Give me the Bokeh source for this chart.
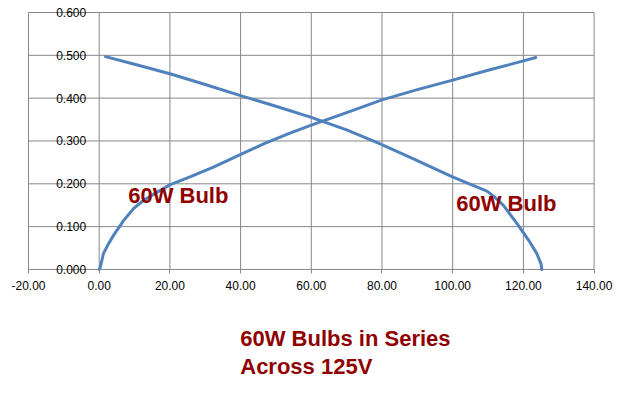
from bokeh.plotting import figure
from bokeh.models import LinearAxis, Range1d, Label, FixedTicker, CustomJSTickFormatter
from bokeh.embed import file_html
from bokeh.resources import INLINE

# Bulb A (voltage across bulb vs current)
bulb_a_v = [0, 0.3, 1.2, 2.5, 4.0, 6.9, 9.7, 12.5, 16.3, 20.1, 25.7, 32.3, 39.9, 46.5,
            53.6, 60, 70, 80, 90, 100, 110, 120, 123.5]
bulb_a_i = [0.000, 0.005, 0.037, 0.058, 0.079, 0.114, 0.142, 0.161, 0.180, 0.198, 0.216,
            0.239, 0.268, 0.293, 0.317, 0.337, 0.366, 0.396, 0.420, 0.442, 0.465, 0.487, 0.495]
# Bulb B (load line)
bulb_b_v = [1.8, 10, 20, 30, 40, 50, 60, 70, 79.5, 88.9, 99.8, 105.9, 109.7, 112, 114.4,
            118.2, 121.5, 123.8, 125.0, 125.2]
bulb_b_i = [0.497, 0.479, 0.457, 0.432, 0.406, 0.381, 0.355, 0.326, 0.293, 0.258, 0.217,
            0.196, 0.183, 0.168, 0.149, 0.107, 0.068, 0.037, 0.013, 0.000]

x_ticks = [-20, 0, 20, 40, 60, 80, 100, 120, 140]
y_ticks = [0.0, 0.1, 0.2, 0.3, 0.4, 0.5, 0.6]

curve_label = "60W Bulb"
title_lines = ["60W Bulbs in Series", "Across 125V"]

GRID = "#868686"
RED = "#900000"
BLUE = "#4F81BD"

W, H = 627, 395
# frame spans the whole canvas; ranges chosen so the plot area sits where the original is
p = figure(width=W, height=H, output_backend="svg", toolbar_location=None,
           x_range=Range1d(-27.92, 149.45), y_range=Range1d(-0.2943, 0.628),
           x_axis_type=None, y_axis_type=None,
           min_border_left=0, min_border_right=0, min_border_top=0, min_border_bottom=0)
p.background_fill_color = "white"
p.border_fill_color = "white"
p.outline_line_color = None
p.grid.visible = False

xmin, xmax = x_ticks[0], x_ticks[-1]
ymin, ymax = y_ticks[0], y_ticks[-1]
# grid lines
p.segment(x0=x_ticks, y0=[ymin] * len(x_ticks), x1=x_ticks, y1=[ymax] * len(x_ticks),
          line_color=GRID, line_width=1)
p.segment(x0=[xmin] * len(y_ticks), y0=y_ticks, x1=[xmax] * len(y_ticks), y1=y_ticks,
          line_color=GRID, line_width=1)

xaxis = LinearAxis(ticker=FixedTicker(ticks=x_ticks), fixed_location=0,
                   formatter=CustomJSTickFormatter(code="return tick.toFixed(2);"))
xaxis.axis_line_color = None
xaxis.major_tick_line_color = GRID
xaxis.minor_tick_line_color = None
xaxis.major_tick_out = 4
xaxis.major_tick_in = 0
xaxis.major_label_standoff = 8
xaxis.major_label_text_font = "Liberation Sans"
xaxis.major_label_text_font_size = "12px"
xaxis.major_label_text_color = "#000000"
p.add_layout(xaxis, "below")

yaxis = LinearAxis(ticker=FixedTicker(ticks=y_ticks), fixed_location=0,
                   formatter=CustomJSTickFormatter(code="return tick.toFixed(3);"))
yaxis.axis_line_color = None
yaxis.major_tick_line_color = None
yaxis.minor_tick_line_color = None
yaxis.major_tick_out = 0
yaxis.major_tick_in = 0
yaxis.major_label_standoff = 13
yaxis.major_label_text_font = "Liberation Sans"
yaxis.major_label_text_font_size = "12px"
yaxis.major_label_text_color = "#000000"
p.add_layout(yaxis, "left")

p.line(bulb_a_v, bulb_a_i, line_color=BLUE, line_width=3, line_join="round", line_cap="round")
p.line(bulb_b_v, bulb_b_i, line_color=BLUE, line_width=3, line_join="round", line_cap="round")

for (lx, ly) in [(8.2, 0.173), (101, 0.155)]:
    p.add_layout(Label(x=lx, y=ly, text=curve_label, text_font="Liberation Sans",
                       text_font_size="22px", text_font_style="bold", text_color=RED,
                       text_baseline="middle", text_align="left"))

for txt, ty in zip(title_lines, [-0.162, -0.226]):
    p.add_layout(Label(x=39.9, y=ty, text=txt, text_font="Liberation Sans",
                       text_font_size="22px", text_font_style="bold", text_color=RED,
                       text_baseline="middle", text_align="left"))

open("out.html", "w").write(file_html(p, INLINE))
